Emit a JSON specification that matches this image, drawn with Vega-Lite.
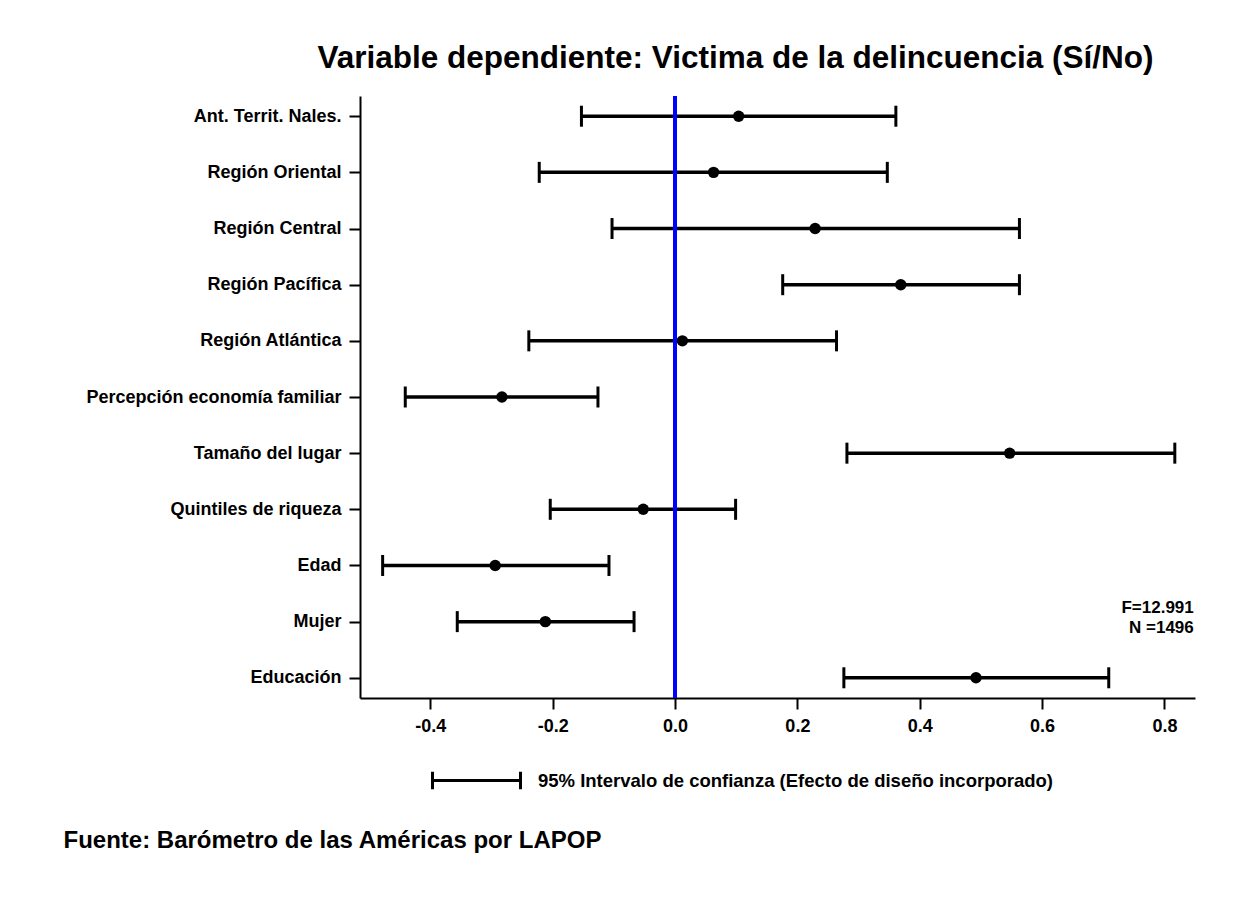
{
  "$schema": "https://vega.github.io/schema/vega-lite/v6.json",
  "width": 835,
  "height": 602,
  "autosize": {"type": "pad"},
  "padding": {"left": 63, "top": 43, "right": 5, "bottom": 5},
  "background": "white",
  "config": {
    "font": "Liberation Sans",
    "view": {"stroke": null},
    "axis": {
      "domainColor": "black",
      "domainWidth": 2,
      "tickColor": "black",
      "tickWidth": 2,
      "tickSize": 11,
      "labelFont": "Liberation Sans",
      "labelFontWeight": "bold",
      "labelFontSize": 18,
      "labelColor": "black",
      "labelLimit": 500,
      "grid": false
    }
  },
  "title": {
    "text": "Variable dependiente: Victima de la delincuencia (Sí/No)",
    "font": "Liberation Sans",
    "fontSize": 31.5,
    "fontWeight": "bold",
    "color": "black",
    "anchor": "middle",
    "frame": "group",
    "dx": -42,
    "offset": 20
  },
  "data": {
    "values": [
      {"variable": "Ant. Territ. Nales.", "lo": -0.153, "coef": 0.104, "hi": 0.361},
      {"variable": "Región Oriental", "lo": -0.222, "coef": 0.063, "hi": 0.347},
      {"variable": "Región Central", "lo": -0.103, "coef": 0.229, "hi": 0.563},
      {"variable": "Región Pacífica", "lo": 0.176, "coef": 0.369, "hi": 0.563},
      {"variable": "Región Atlántica", "lo": -0.239, "coef": 0.012, "hi": 0.264},
      {"variable": "Percepción economía familiar", "lo": -0.441, "coef": -0.283, "hi": -0.126},
      {"variable": "Tamaño del lugar", "lo": 0.281, "coef": 0.547, "hi": 0.817},
      {"variable": "Quintiles de riqueza", "lo": -0.204, "coef": -0.052, "hi": 0.099},
      {"variable": "Edad", "lo": -0.478, "coef": -0.294, "hi": -0.108},
      {"variable": "Mujer", "lo": -0.356, "coef": -0.212, "hi": -0.067},
      {"variable": "Educación", "lo": 0.276, "coef": 0.492, "hi": 0.709}
    ]
  },
  "encoding": {
    "y": {
      "field": "variable",
      "type": "nominal",
      "sort": null,
      "scale": {"type": "point", "padding": 0.36},
      "axis": {"title": null, "labelPadding": 8}
    }
  },
  "layer": [
    {
      "mark": {"type": "rule", "strokeWidth": 3.5},
      "encoding": {
        "x": {
          "field": "lo",
          "type": "quantitative",
          "scale": {"domain": [-0.515, 0.85], "nice": false, "zero": false},
          "axis": {
            "values": [-0.4, -0.2, 0, 0.2, 0.4, 0.6, 0.8],
            "labelExpr": "replace(format(datum.value, '.1f'), '\u2212', '-')",
            "labelPadding": 8,
            "title": "Fuente: Barómetro de las Américas por LAPOP",
            "titleFont": "Liberation Sans",
            "titleFontSize": 24,
            "titleFontWeight": "bold",
            "titleColor": "black",
            "titleAlign": "left",
            "titleAnchor": "start",
            "titleBaseline": "alphabetic",
            "titleX": -297,
            "titleY": 149
          }
        },
        "x2": {"field": "hi"},
        "color": {
          "datum": "95% Intervalo de confianza (Efecto de diseño incorporado)",
          "type": "nominal",
          "scale": {"range": ["black"]},
          "legend": {
            "title": null,
            "orient": "none",
            "legendX": 71,
            "legendY": 639,
            "symbolType": "M-1,0H1M-1,-0.2V0.2M1,-0.2V0.2",
            "symbolSize": 7744,
            "symbolStrokeWidth": 3,
            "symbolStrokeColor": "black",
            "labelFont": "Liberation Sans",
            "labelFontSize": 18.5,
            "labelFontWeight": "bold",
            "labelColor": "black",
            "labelOffset": 16,
            "labelLimit": 800
          }
        }
      }
    },
    {
      "mark": {"type": "tick", "thickness": 3, "size": 21, "color": "black", "opacity": 1},
      "encoding": {"x": {"field": "lo", "type": "quantitative"}}
    },
    {
      "mark": {"type": "tick", "thickness": 3, "size": 21, "color": "black", "opacity": 1},
      "encoding": {"x": {"field": "hi", "type": "quantitative"}}
    },
    {
      "mark": {"type": "rule", "color": "#0000ff", "strokeWidth": 3},
      "encoding": {"x": {"datum": 0, "type": "quantitative"}, "y": null}
    },
    {
      "mark": {"type": "point", "filled": true, "shape": "circle", "size": 130, "color": "black", "opacity": 1},
      "encoding": {"x": {"field": "coef", "type": "quantitative"}}
    },
    {
      "data": {"values": [{"stat": ["F=12.991", "N =1496"]}]},
      "mark": {"type": "text", "align": "right", "baseline": "middle", "dy": -14, "font": "Liberation Sans", "fontSize": 17, "fontWeight": "bold", "color": "black", "lineHeight": 20},
      "encoding": {
        "x": {"datum": 0.848, "type": "quantitative"},
        "y": {"datum": "Mujer", "type": "nominal"},
        "text": {"field": "stat"}
      }
    }
  ]
}
